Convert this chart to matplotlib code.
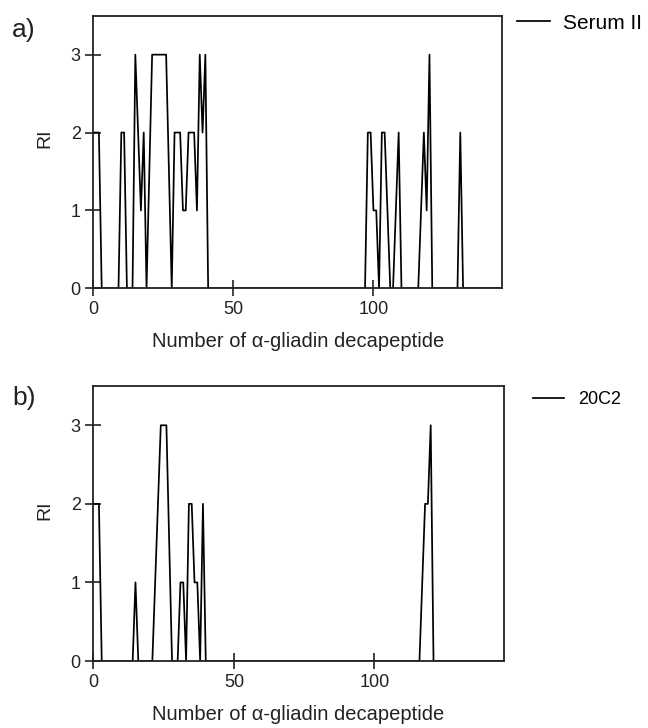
import numpy as np
import matplotlib
matplotlib.use("Agg")
import matplotlib.pyplot as plt

plt.rcParams['font.family'] = ['Liberation Sans', 'DejaVu Sans']

# decapeptide numbers and RI values (points not listed are 0)
n_peptides = 147
serum_pos = [0, 1, 2, 10, 11, 15, 16, 17, 18, 20, 21, 22, 23, 24, 25, 26, 27,
             29, 30, 31, 32, 33, 34, 35, 36, 37, 38, 39, 40,
             98, 99, 100, 101, 103, 104, 105, 108, 109, 117, 118, 119, 120, 131]
serum_ri = [2, 2, 2, 2, 2, 3, 2, 1, 2, 1.5, 3, 3, 3, 3, 3, 3, 1.5,
            2, 2, 2, 1, 1, 2, 2, 2, 1, 3, 2, 3,
            2, 2, 1, 1, 2, 2, 1, 1, 2, 1, 2, 1, 3, 2]

mab_pos = [0, 1, 2, 15, 22, 23, 24, 25, 26, 27, 31, 32, 34, 35, 36, 37, 39,
           117, 118, 119, 120]
mab_ri = [2, 2, 2, 1, 1, 2, 3, 3, 3, 1.5, 1, 1, 2, 2, 1, 1, 2,
          1, 2, 2, 3]

panels = [("a)", "Serum II", serum_pos, serum_ri),
          ("b)", "20C2", mab_pos, mab_ri)]

W, H = 648, 728
fig = plt.figure(figsize=(W / 100, H / 100), dpi=100)

# axes boxes in pixels: left, top, width, height
boxes = [(93.3, 15.7, 409, 272.6), (93.3, 386, 410.5, 275)]
panel_label_y = [30, 398]
legend_x = [1.036, 1.072]
legend_y = [0.973, 0.950]
legend_size = [15, 13]
legend_hl = [1.6, 1.72]
legend_pad = [0.6, 0.78]

for i, (tag, name, pos, ri) in enumerate(panels):
    l, t, w, h = boxes[i]
    ax = fig.add_axes([l / W, 1 - (t + h) / H, w / W, h / H])
    y = np.zeros(n_peptides)
    y[pos] = ri
    ax.plot(np.arange(n_peptides), y, color='black', lw=1.25, label=name)
    ax.set_xlim(0, 146)
    ax.set_ylim(0, 3.5)
    ax.set_xticks([0, 50, 100])
    ax.set_yticks([0, 1, 2, 3])
    ax.tick_params(direction='inout', length=11, width=1.2, labelsize=13,
                   colors='#222222')
    ax.tick_params(axis='x', pad=4)
    ax.tick_params(axis='y', pad=3.5)
    for sp in ax.spines.values():
        sp.set_linewidth(1.3)
        sp.set_color('#222222')
    ax.set_ylabel("RI", fontsize=14, color='#222222')
    ax.yaxis.set_label_coords(-0.098, 0.55)
    ax.set_xlabel("Number of α-gliadin decapeptide", fontsize=14.5,
                  color='#222222')
    ax.xaxis.set_label_coords(0.5, -0.16)
    ax.legend(loc='center left', bbox_to_anchor=(legend_x[i], legend_y[i]),
              frameon=False, fontsize=legend_size[i],
              handlelength=legend_hl[i], handletextpad=legend_pad[i],
              borderpad=0, borderaxespad=0)
    fig.text(24 / W, 1 - panel_label_y[i] / H, tag, fontsize=19,
             ha='center', va='center', color='#222222')

fig.savefig("out.png", dpi=100)
